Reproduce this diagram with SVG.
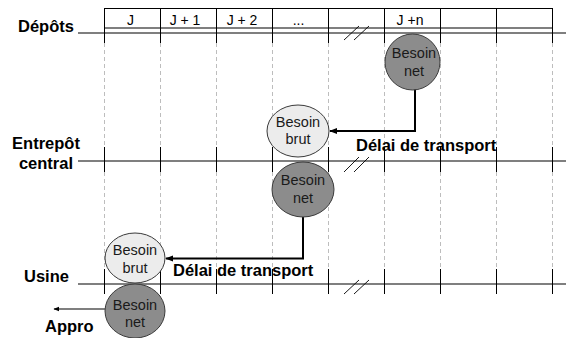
<svg xmlns="http://www.w3.org/2000/svg" width="566" height="338" viewBox="0 0 566 338">
  <style>
    .grid { stroke: #000; stroke-width: 1.2; fill: none; }
    .tick { stroke: #000; stroke-width: 1; fill: none; }
    .dash { stroke: #bdbdbd; stroke-width: 1; stroke-dasharray: 4 3; fill: none; }
    .slash { stroke: #000; stroke-width: 0.9; fill: none; }
    .head { font-family: "Liberation Sans", Arial, sans-serif; font-size: 14px; fill: #000; text-anchor: middle; }
    .lbl { font-family: "Liberation Sans", Arial, sans-serif; font-size: 16.5px; font-weight: bold; fill: #000; }
    .node-text { font-family: "Liberation Sans", Arial, sans-serif; font-size: 14.5px; fill: #1a1a1a; text-anchor: middle; }
    .net { fill: #8c8c8c; stroke: #3a3a3a; stroke-width: 1; }
    .brut { fill: #ececec; stroke: #3a3a3a; stroke-width: 1; }
    .conn { stroke: #000; stroke-width: 2; fill: none; }
    .conn-thin { stroke: #000; stroke-width: 1.2; fill: none; }
  </style>
  <defs>
    <marker id="arrow" viewBox="0 0 10 10" refX="9" refY="5" markerWidth="4" markerHeight="4" orient="auto" markerUnits="strokeWidth">
      <path d="M0,1 L10,5 L0,9 Z" fill="#000"/>
    </marker>
    <marker id="arrow-thin" viewBox="0 0 10 10" refX="9" refY="5" markerWidth="5" markerHeight="5" orient="auto" markerUnits="strokeWidth">
      <path d="M0,1 L10,5 L0,9 Z" fill="#000"/>
    </marker>
  </defs>

  <!-- day columns: header row and time lines -->
  <g id="timeline">
    <!-- header box -->
    <line class="grid" x1="104.5" y1="8.5" x2="552.5" y2="8.5"/>
    <line class="grid" x1="104.5" y1="28" x2="552.5" y2="28"/>
    <!-- site lines -->
    <line class="grid" x1="78" y1="33" x2="566" y2="33"/>
    <line class="grid" x1="78" y1="161" x2="566" y2="161"/>
    <line class="grid" x1="78" y1="284" x2="566" y2="284"/>

    <!-- solid column ticks around each site line -->
    <g class="tick">
      <path d="M104.5,8 V43 M160.5,8 V43 M216.5,8 V43 M272.5,8 V43 M328.5,8 V43 M384.5,8 V43 M440.5,8 V43 M496.5,8 V43 M552.5,8 V43"/>
      <path d="M104.5,147 V172 M160.5,147 V172 M216.5,147 V172 M272.5,147 V172 M328.5,147 V172 M384.5,147 V172 M440.5,147 V172 M496.5,147 V172 M552.5,147 V172"/>
      <path d="M104.5,269 V294 M160.5,269 V294 M216.5,269 V294 M272.5,269 V294 M328.5,269 V294 M384.5,269 V294 M440.5,269 V294 M496.5,269 V294 M552.5,269 V294"/>
    </g>
    <!-- dashed column guides between site lines -->
    <g class="dash">
      <path d="M104.5,43 V147 M160.5,43 V147 M216.5,43 V147 M272.5,43 V147 M328.5,43 V147 M384.5,43 V147 M440.5,43 V147 M496.5,43 V147 M552.5,43 V147"/>
      <path d="M104.5,172 V269 M160.5,172 V269 M216.5,172 V269 M272.5,172 V269 M328.5,172 V269 M384.5,172 V269 M440.5,172 V269 M496.5,172 V269 M552.5,172 V269"/>
    </g>

    <!-- time break marks -->
    <g class="slash">
      <path d="M344,40 L359,26 M354,40 L369,26"/>
      <path d="M344,172 L359,157 M354,172 L369,157"/>
      <path d="M344,294 L359,280 M354,294 L369,280"/>
    </g>

    <!-- header labels -->
    <text class="head" x="130.5" y="25">J</text>
    <text class="head" x="185" y="25">J + 1</text>
    <text class="head" x="242" y="25">J + 2</text>
    <text class="head" x="298.5" y="25">...</text>
    <text class="head" x="410" y="25">J +n</text>
  </g>

  <!-- site labels -->
  <g id="labels">
    <text class="lbl" x="18" y="32">Dépôts</text>
    <text class="lbl" x="46" y="149" text-anchor="middle">Entrepôt</text>
    <text class="lbl" x="46" y="169" text-anchor="middle">central</text>
    <text class="lbl" x="24" y="282">Usine</text>
    <text class="lbl" x="45" y="332">Appro</text>
    <text class="lbl" x="356" y="151">Délai de transport</text>
    <text class="lbl" x="173" y="276">Délai de transport</text>
  </g>

  <!-- connectors -->
  <g id="connectors">
    <path class="conn" d="M415,89 V131 H330" marker-end="url(#arrow)"/>
    <path class="conn" d="M303,217 V258.5 H166" marker-end="url(#arrow)"/>
    <path class="conn-thin" d="M105,309 H54" marker-end="url(#arrow-thin)"/>
  </g>

  <!-- nodes -->
  <g id="depots-besoin-net">
    <ellipse class="net" cx="412.5" cy="62" rx="27.5" ry="28"/>
    <text class="node-text" x="414" y="58">Besoin</text>
    <text class="node-text" x="414" y="76">net</text>
  </g>
  <g id="entrepot-besoin-brut">
    <ellipse class="brut" cx="298" cy="131" rx="31" ry="26"/>
    <text class="node-text" x="298" y="127">Besoin</text>
    <text class="node-text" x="298" y="144">brut</text>
  </g>
  <g id="entrepot-besoin-net">
    <ellipse class="net" cx="303" cy="189.5" rx="31" ry="27.5"/>
    <text class="node-text" x="303" y="185">Besoin</text>
    <text class="node-text" x="303" y="203">net</text>
  </g>
  <g id="usine-besoin-brut">
    <ellipse class="brut" cx="135" cy="258" rx="30" ry="25"/>
    <text class="node-text" x="135" y="255">Besoin</text>
    <text class="node-text" x="135" y="273">brut</text>
  </g>
  <g id="usine-besoin-net">
    <ellipse class="net" cx="135" cy="311" rx="30" ry="27"/>
    <text class="node-text" x="135" y="310">Besoin</text>
    <text class="node-text" x="135" y="327">net</text>
  </g>
</svg>
